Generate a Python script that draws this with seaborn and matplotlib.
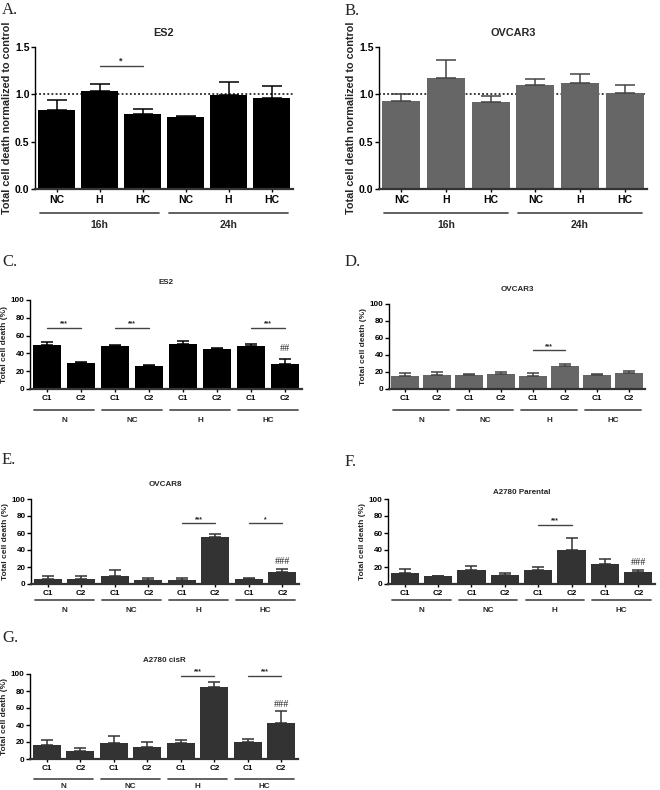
import matplotlib
matplotlib.use("Agg")
import matplotlib.pyplot as plt
import matplotlib.transforms as mtrans
import seaborn as sns
import numpy as np
import pandas as pd

# ---------------- data ----------------
time_groups = ["16h", "24h"]
time_ticks = ["NC", "H", "HC", "NC", "H", "HC"]
a_mean = [0.83, 1.04, 0.79, 0.76, 0.99, 0.96]
a_err = [0.11, 0.07, 0.06, 0.01, 0.14, 0.13]
b_mean = [0.93, 1.17, 0.92, 1.10, 1.12, 1.01]
b_err = [0.07, 0.19, 0.06, 0.06, 0.10, 0.09]

cond_groups = ["N", "NC", "H", "HC"]
cond_ticks = ["C1", "C2", "C1", "C2", "C1", "C2", "C1", "C2"]
c_mean = [49, 29, 48, 26, 50, 45, 48, 28]
c_err = [4, 1.5, 1.5, 1.5, 4, 1.5, 3, 6]
d_mean = [15, 17, 16, 18, 15, 27, 16, 19]
d_err = [4, 2.5, 2, 1.5, 3.5, 2.5, 2, 2]
e_mean = [6, 6, 10, 5, 5, 55, 6, 14]
e_err = [4, 4, 6, 2, 1.5, 4, 1.5, 4]
f_mean = [13, 9, 16, 11, 16, 40, 24, 14]
f_err = [5, 1, 5, 2, 4.5, 14, 6, 3]
g_mean = [16, 9, 19, 14, 19, 85, 20, 42]
g_err = [6, 4, 8, 6, 3, 6, 4, 14]

# significance: (bar i, bar j, y, text)
a_sig = [(1, 2, 1.30, "*")]
c_sig = [(0, 1, 69, "***"), (2, 3, 69, "***"), (6, 7, 69, "***")]
d_sig = [(4, 5, 46, "***")]
e_sig = [(4, 5, 72, "***"), (6, 7, 72, "*")]
f_sig = [(4, 5, 70, "***")]
g_sig = [(4, 5, 98, "***"), (6, 7, 98, "***")]
# hash marks: (bar i, y, text)
c_hash = [(7, 40, "##")]
e_hash = [(7, 21, "###")]
f_hash = [(7, 20, "###")]
g_hash = [(7, 59, "###")]

# ---------------- style ----------------
sns.set_theme(style="ticks")
plt.rcParams["font.family"] = ["Liberation Sans", "DejaVu Sans"]
plt.rcParams["font.weight"] = "bold"

W, H = 660, 790
fig = plt.figure(figsize=(W / 100, H / 100), dpi=100)


def add_ax(x0, y0, x1, y1):
    return fig.add_axes([x0 / W, 1 - y1 / H, (x1 - x0) / W, (y1 - y0) / H])


def ftext(x, y, s, **kw):
    fig.text(x / W, 1 - y / H, s, **kw)


def panel(box, title, title_y, letter, letter_xy, ticks, groups, mean, err, color,
          ecolor, ylim, yticks, yfmt, ylabel, fs, lfs, tfs, line_off, text_off,
          capsize, sig=(), hashes=(), dotted=False, ylabel_pad=2):
    x0, y0, x1, y1 = box
    ax = add_ax(*box)
    n = len(mean)
    keys = [f"{i}" for i in range(n)]
    df = pd.DataFrame({"key": keys, "value": mean})
    sns.barplot(data=df, x="key", y="value", order=keys, color=color,
                width=0.85, errorbar=None, linewidth=0, saturation=1, ax=ax)
    ax.errorbar(np.arange(n), mean, yerr=[np.zeros(n), err], fmt="none",
                ecolor=ecolor, elinewidth=1.1, capsize=capsize, capthick=1.1,
                zorder=1)
    ax.set_xlim(-0.5, n - 0.5)
    ax.set_ylim(*ylim)
    ax.set_yticks(yticks)
    ax.set_yticklabels([yfmt.format(v) for v in yticks], fontsize=fs, fontweight="bold")
    ax.set_xticks(np.arange(n))
    ax.set_xticklabels(ticks, fontsize=fs, fontweight="bold")
    ax.set_xlabel("")
    ax.set_ylabel(ylabel, fontsize=lfs, fontweight="bold", labelpad=ylabel_pad)
    for s in ["top", "right"]:
        ax.spines[s].set_visible(False)
    ax.spines["left"].set_linewidth(1.0)
    ax.spines["bottom"].set_linewidth(1.6)
    ax.spines["left"].set_color("black")
    ax.spines["bottom"].set_color("#333333")
    ax.tick_params(axis="y", length=3, width=1, pad=1, colors="black")
    ax.tick_params(axis="x", length=2.5, width=1, pad=2, colors="black")
    ax.set_facecolor("white")
    if dotted:
        ax.axhline(1.0, ls=(0, (1.2, 1.5)), color="black", lw=1.1, zorder=0.5)
    hpx = y1 - y0
    tr = mtrans.blended_transform_factory(ax.transData, ax.transAxes)
    per = n // len(groups)
    for g, name in enumerate(groups):
        a = g * per - 0.5 + 0.12
        b = g * per + per - 0.5 - 0.12
        ax.plot([a, b], [-line_off / hpx] * 2, transform=tr, color="#555555",
                lw=1.3, clip_on=False)
        ax.text((a + b) / 2, -text_off / hpx, name, transform=tr, ha="center",
                va="center", fontsize=fs, fontweight="bold")
    for i, j, y, t in sig:
        ax.plot([i, j], [y, y], color="#444444", lw=1.0, clip_on=False)
        ax.text((i + j) / 2, y, t, ha="center", va="bottom", fontsize=fs - 1,
                fontweight="bold")
    for i, y, t in hashes:
        ax.text(i, y, t, ha="center", va="bottom", fontsize=fs + 1.5,
                fontweight="normal", family="Liberation Serif")
    ftext((x0 + x1) / 2, title_y, title, ha="center", va="center",
          fontsize=tfs, fontweight="bold")
    ftext(letter_xy[0], letter_xy[1], letter, ha="left", va="center",
          fontsize=12, fontweight="normal", family="Liberation Serif")
    return ax


ylab_norm = "Total cell death normalized to control"
ylab_pct = "Total cell death (%)"

panel((35, 47, 293, 189), "ES2", 33, "A.", (2, 10), time_ticks, time_groups,
      a_mean, a_err, "#000000", "#000000", (0, 1.5), [0.0, 0.5, 1.0, 1.5], "{:.1f}",
      ylab_norm, 7.5, 7.8, 7.8, 24, 36, 7.5, sig=a_sig, dotted=True)
panel((379, 47, 647, 189), "OVCAR3", 33, "B.", (345, 11), time_ticks, time_groups,
      b_mean, b_err, "#666666", "#444444", (0, 1.5), [0.0, 0.5, 1.0, 1.5], "{:.1f}",
      ylab_norm, 7.5, 7.8, 7.8, 24, 36, 7.5, dotted=True)

pct_ticks = [0, 20, 40, 60, 80, 100]
panel((30, 300, 302, 389), "ES2", 283, "C.", (2, 262), cond_ticks, cond_groups,
      c_mean, c_err, "#000000", "#000000", (0, 100), pct_ticks, "{:d}", ylab_pct,
      5.8, 6.0, 5.8, 21, 32, 4, sig=c_sig, hashes=c_hash)
panel((389, 304, 645, 389), "OVCAR3", 290, "D.", (345, 262), cond_ticks, cond_groups,
      d_mean, d_err, "#666666", "#444444", (0, 100), pct_ticks, "{:d}", ylab_pct,
      5.8, 6.0, 5.8, 21, 32, 4, sig=d_sig)
panel((31, 499, 299, 584), "OVCAR8", 484, "E.", (2, 460), cond_ticks, cond_groups,
      e_mean, e_err, "#333333", "#333333", (0, 100), pct_ticks, "{:d}", ylab_pct,
      5.8, 6.0, 5.8, 16, 27, 4, sig=e_sig, hashes=e_hash)
panel((388, 499, 655, 584), "A2780 Parental", 492, "F.", (345, 462), cond_ticks,
      cond_groups, f_mean, f_err, "#333333", "#333333", (0, 100), pct_ticks, "{:d}",
      ylab_pct, 5.8, 6.0, 5.8, 16, 27, 4, sig=f_sig, hashes=f_hash)
panel((30, 674, 298, 759), "A2780 cisR", 660, "G.", (2, 638), cond_ticks, cond_groups,
      g_mean, g_err, "#333333", "#333333", (0, 100), pct_ticks, "{:d}", ylab_pct,
      5.8, 6.0, 5.8, 20, 28, 4, sig=g_sig, hashes=g_hash)

fig.savefig("out.png", dpi=100, facecolor="white")
